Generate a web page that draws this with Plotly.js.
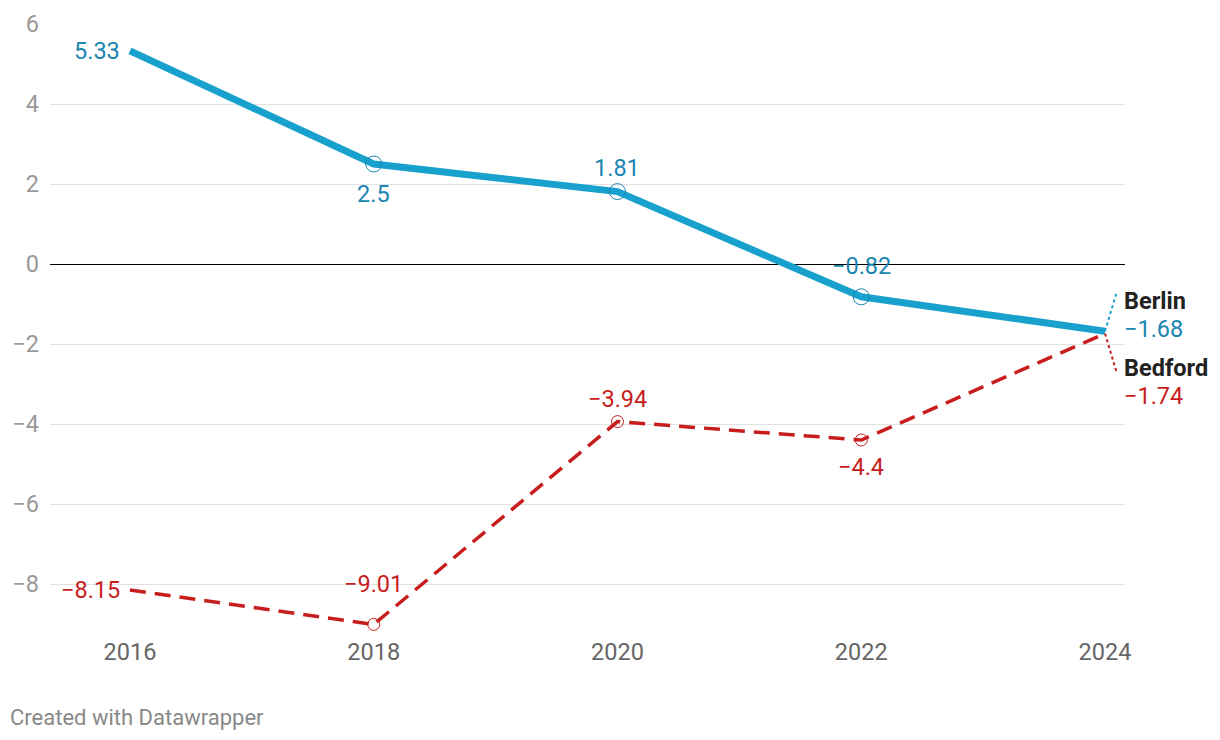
<!DOCTYPE html>
<html>
<head>
<meta charset="utf-8">
<script src="https://cdn.plot.ly/plotly-3.0.1.min.js"></script>
<style>html,body{margin:0;padding:0;background:#fff;}#chart{width:1220px;height:740px;}</style>
</head>
<body>
<div id="chart"></div>
<script>
const years = [2016, 2018, 2020, 2022, 2024];
const berlin = [5.33, 2.5, 1.81, -0.82, -1.68];
const bedford = [-8.15, -9.01, -3.94, -4.4, -1.74];
const yTicks = [-8, -6, -4, -2, 0, 2, 4, 6];
const seriesNames = ['Berlin', 'Bedford'];

const BLUE = '#18a1cd', BLUE_TXT = '#1a85b0', RED = '#c71e1d';
const fmt = v => String(v).replace('-', '\u2212');
const LBL = 23.5;

// label placement per point: [xanchor, xshift, yshift]; null = none
const berlinPlace = [['right', -8, 0], ['center', 0, -30], ['center', 0, 24], ['center', 0, 31], null];
const bedfordPlace = [['right', -8, 0], ['center', 0, 40], ['center', 0, 23], ['center', 0, -27], null];

const annotations = [];
function addLabels(vals, place, color) {
  vals.forEach((v, i) => {
    const p = place[i];
    if (!p) return;
    annotations.push({x: years[i], y: v, xref: 'x', yref: 'y', text: fmt(v), showarrow: false,
      xanchor: p[0], yanchor: 'middle', xshift: p[1], yshift: p[2],
      font: {family: 'Roboto', size: LBL, color: color}});
  });
}
addLabels(berlin, berlinPlace, BLUE_TXT);
addLabels(bedford, bedfordPlace, RED);

const last = years.length - 1;
const endLabels = [
  {name: seriesNames[0], v: berlin[last], color: BLUE_TXT, nameShift: 30, valShift: 2},
  {name: seriesNames[1], v: bedford[last], color: RED, nameShift: -34, valShift: -62}
];
endLabels.forEach(e => {
  annotations.push({x: years[last], y: e.v, xref: 'x', yref: 'y', text: '<b>' + e.name + '</b>', showarrow: false,
    xanchor: 'left', yanchor: 'middle', xshift: 17, yshift: e.nameShift,
    font: {family: 'Roboto', size: LBL, color: '#222'}});
  annotations.push({x: years[last], y: e.v, xref: 'x', yref: 'y', text: fmt(e.v), showarrow: false,
    xanchor: 'left', yanchor: 'middle', xshift: 17, yshift: e.valShift,
    font: {family: 'Roboto', size: LBL, color: e.color}});
});
annotations.push({x: 0, y: 0, xref: 'paper', yref: 'paper', text: 'Created with Datawrapper', showarrow: false,
  xanchor: 'left', yanchor: 'middle', xshift: -42, yshift: -85,
  font: {family: 'Roboto', size: 22, color: '#888'}});

const shapes = [
  {type: 'line', xref: 'x', yref: 'y', xsizemode: 'pixel', ysizemode: 'pixel',
   xanchor: years[last], yanchor: berlin[last], x0: 0, x1: 12, y0: 0, y1: 40,
   line: {color: BLUE, width: 2, dash: 'dot'}},
  {type: 'line', xref: 'x', yref: 'y', xsizemode: 'pixel', ysizemode: 'pixel',
   xanchor: years[last], yanchor: bedford[last], x0: 0, x1: 12, y0: 0, y1: -40,
   line: {color: RED, width: 2, dash: 'dot'}}
];

const markerIdx = [1, 2, 3];
const traces = [
  {x: years, y: bedford, mode: 'lines', line: {color: RED, width: 3.5, dash: '16px,9px'}, hoverinfo: 'skip'},
  {x: markerIdx.map(i => years[i]), y: markerIdx.map(i => bedford[i]), mode: 'markers',
   marker: {symbol: 'circle-open', size: 12, color: RED, line: {width: 1, color: RED}}, hoverinfo: 'skip'},
  {x: years, y: berlin, mode: 'lines', line: {color: BLUE, width: 7}, hoverinfo: 'skip'},
  {x: markerIdx.map(i => years[i]), y: markerIdx.map(i => berlin[i]), mode: 'markers',
   marker: {symbol: 'circle-open', size: 16, color: BLUE_TXT, line: {width: 1, color: BLUE_TXT}}, hoverinfo: 'skip'}
];

const layout = {
  width: 1220, height: 740,
  margin: {l: 50, r: 95, t: 24, b: 108, pad: 0},
  paper_bgcolor: '#fff', plot_bgcolor: '#fff',
  showlegend: false,
  font: {family: 'Roboto'},
  xaxis: {range: [2015.344, 2024.164], tickvals: years, ticktext: years.map(String),
    showgrid: false, zeroline: false, showline: false, ticks: '',
    tickfont: {family: 'Roboto', size: 23.5, color: '#666'}, ticklabelstandoff: 3},
  yaxis: {range: [-9.2, 6], tickvals: yTicks, ticktext: yTicks.map(fmt),
    showgrid: true, gridcolor: '#e2e2e2', gridwidth: 1,
    zeroline: true, zerolinecolor: '#000', zerolinewidth: 1,
    showline: false, ticks: '',
    tickfont: {family: 'Roboto', size: 23.5, color: '#999'}, ticklabelstandoff: 10},
  annotations: annotations,
  shapes: shapes
};
Plotly.newPlot('chart', traces, layout, {staticPlot: true, displayModeBar: false});
</script>
</body>
</html>
